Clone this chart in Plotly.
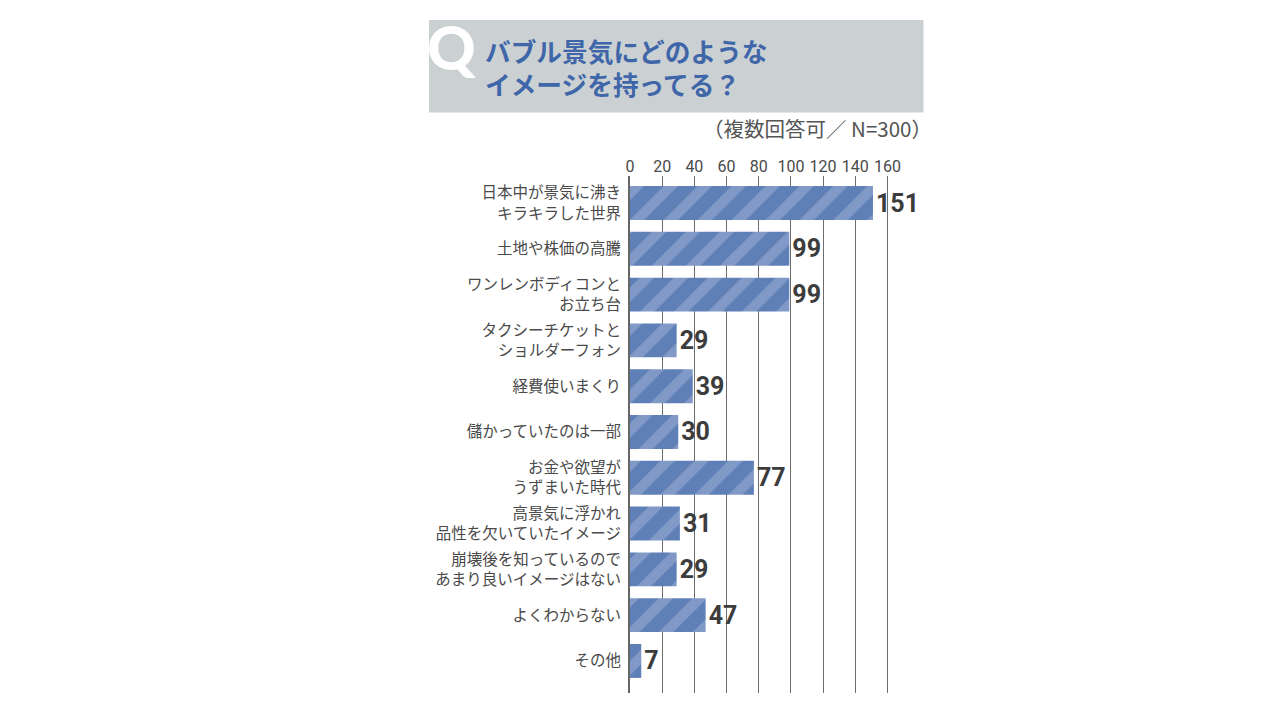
"""Bar chart of survey answers on images of the bubble economy."""
import plotly.graph_objects as go

WIDTH = 1267
HEIGHT = 719
BODY_MARGIN = 8  # the page body pushes the figure down and right

categories = [
    "日本中が景気に沸き<br>キラキラした世界",
    "土地や株価の高騰",
    "ワンレンボディコンと<br>お立ち台",
    "タクシーチケットと<br>ショルダーフォン",
    "経費使いまくり",
    "儲かっていたのは一部",
    "お金や欲望が<br>うずまいた時代",
    "高景気に浮かれ<br>品性を欠いていたイメージ",
    "崩壊後を知っているので<br>あまり良いイメージはない",
    "よくわからない",
    "その他",
]
values = [151, 99, 99, 29, 39, 30, 77, 31, 29, 47, 7]
x_ticks = [0, 20, 40, 60, 80, 100, 120, 140, 160]
title_lines = ["バブル景気にどのような", "イメージを持ってる？"]
note = "（複数回答可／ N=300）"

JP_FONT = "Noto Sans CJK JP"
NUM_FONT = "Roboto"
GRID = "#6c6c6c"
TEXT = "#4a4a4a"
BLUE = "#3f66a9"


def px_x(x: float) -> float:
    """Convert a pixel column to paper x."""
    return (x - BODY_MARGIN) / WIDTH


def px_y(y: float) -> float:
    """Convert a pixel row to paper y."""
    return 1.0 - (y - BODY_MARGIN) / HEIGHT


fig = go.Figure(go.Bar(
    x=values,
    y=categories,
    orientation="h",
    width=0.74,
    marker={
        "color": "#82999f",
        "line": {"width": 0},
        "pattern": {
            "shape": "/",
            "bgcolor": "#8199c6",
            "fgcolor": "#5f7fb7",
            "fillmode": "replace",
            "size": 24,
            "solidity": 0.58,
        },
    },
    text=values,
    texttemplate="<b>%{text}</b>",
    textposition="outside",
    cliponaxis=False,
    textfont={"family": NUM_FONT, "size": 25, "color": "#3c3c3c"},
))

# Title box
fig.add_shape(
    type="rect", xref="paper", yref="paper",
    x0=px_x(429), x1=px_x(923.5), y0=px_y(112.5), y1=px_y(20),
    fillcolor="#cbd1d3", line={"width": 0}, layer="below",
)
fig.add_annotation(
    text="Q", xref="paper", yref="paper", x=px_x(452), y=px_y(47),
    xanchor="center", yanchor="middle", showarrow=False,
    font={"family": "Lato", "size": 60, "weight": 900, "color": "white"},
)
fig.add_annotation(
    text="<b>" + "<br>".join(title_lines) + "</b>", xref="paper", yref="paper",
    x=px_x(483), y=px_y(67), xanchor="left", yanchor="middle", align="left",
    showarrow=False,
    font={"family": JP_FONT, "size": 25.7, "color": BLUE},
)
fig.add_annotation(
    text=note, xref="paper", yref="paper", x=px_x(934), y=px_y(128),
    xanchor="right", yanchor="middle", showarrow=False,
    font={"family": JP_FONT, "size": 20.5, "color": "#555555"},
)

fig.update_xaxes(
    domain=[px_x(630), px_x(895.5)],
    range=[0, 165],
    side="top",
    automargin=False,
    tickvals=x_ticks,
    showgrid=True,
    gridcolor=GRID,
    gridwidth=1.2,
    zeroline=False,
    ticks="",
    tickfont={"family": NUM_FONT, "size": 16, "color": TEXT},
)
fig.update_yaxes(
    domain=[px_y(693), px_y(176)],
    range=[10.7, -0.59],
    type="category",
    automargin=False,
    showline=True,
    linecolor="#666666",
    linewidth=2,
    ticks="outside",
    ticklen=4,
    tickcolor="rgba(0,0,0,0)",
    tickfont={"family": JP_FONT, "size": 15.5, "color": TEXT},
)
fig.update_layout(
    width=WIDTH,
    height=HEIGHT,
    margin={"l": 0, "r": 0, "t": 0, "b": 0},
    paper_bgcolor="white",
    plot_bgcolor="white",
    showlegend=False,
)
fig.write_html("out.html")
